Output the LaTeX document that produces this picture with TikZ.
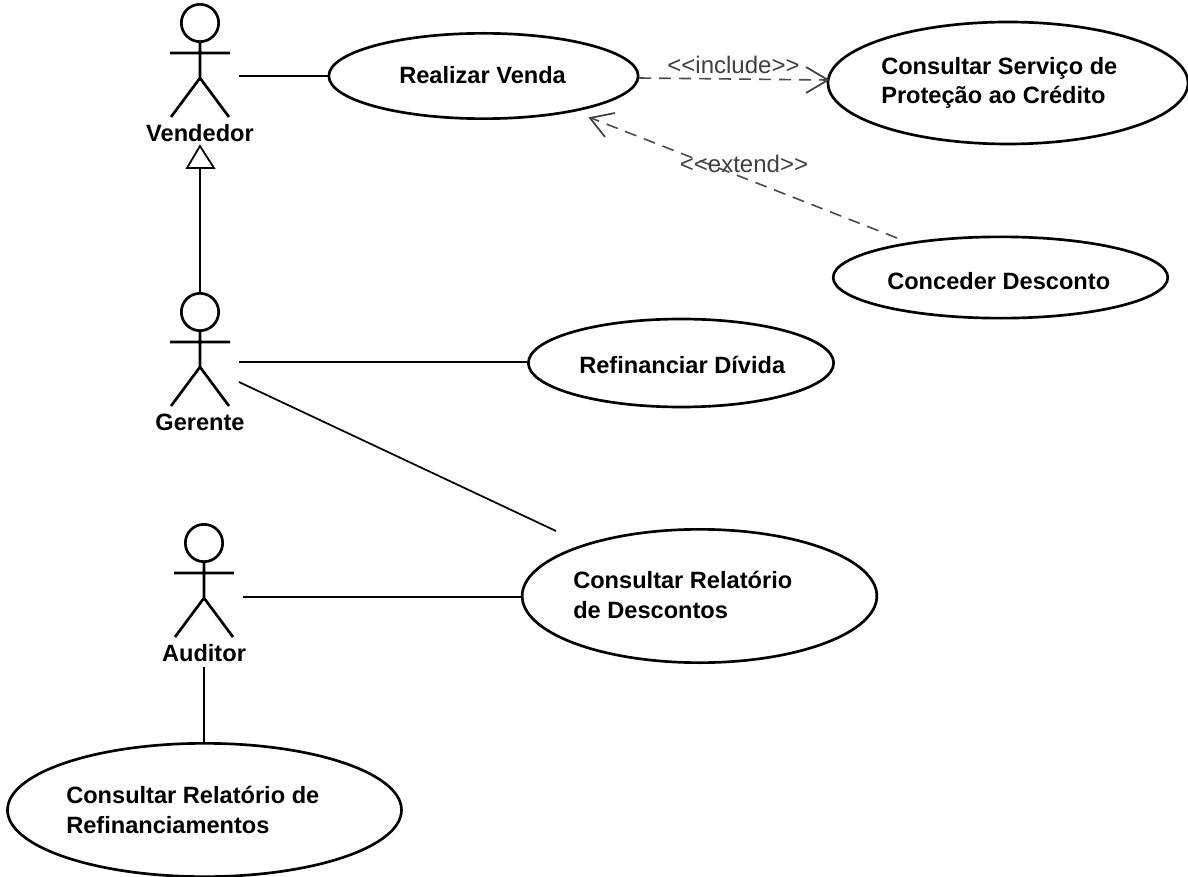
\documentclass[tikz,border=0pt]{standalone}
\usepackage{fontspec}
\setmainfont{Liberation Sans}
\usetikzlibrary{shapes.geometric}
\tikzset{x=0.75pt,y=-0.75pt,
 uc/.style={draw,ellipse,line width=2pt,inner sep=0pt},
 lbl/.style={font=\bfseries\fontsize{17.7}{22}\selectfont,align=left,anchor=base west,inner sep=0pt},
 ster/.style={font=\fontsize{18}{20}\selectfont,inner sep=0pt,anchor=base,text=black!75},
 act/.style={line width=2pt},
 asc/.style={line width=1.3pt},
 dep/.style={line width=1.2pt,dash pattern=on 9pt off 6pt,draw=black!70},
 opn/.style={line width=1.3pt,draw=black!75}}
\newcommand{\actor}[3]{%
 \draw[act] (#1,#2-55) circle[radius=14pt];
 \draw[act] (#1,#2-36) -- (#1,#2) (#1-30,#2-25) -- (#1+30,#2-25) (#1-29,#2+39) -- (#1,#2) -- (#1+29,#2+39);
 \node[lbl,anchor=base] (#3) at (#1,#2+63.5) {#3};}
\begin{document}
\begin{tikzpicture}
\useasboundingbox (0,0) rectangle (1188,877);
\fill[white] (0,0) rectangle (1188,877);
\node[uc,minimum width=232pt,minimum height=64pt] (rv) at (483.5,76) {};
\node[uc,minimum width=270pt,minimum height=91.5pt] (cs) at (1008,83) {};
\node[uc,minimum width=251pt,minimum height=61pt] (cd) at (1000.5,277.5) {};
\node[uc,minimum width=229pt,minimum height=66pt] (rd) at (681,363) {};
\node[uc,minimum width=266pt,minimum height=100pt] (cr) at (699.5,596) {};
\node[uc,minimum width=295.5pt,minimum height=100pt] (crf) at (204.5,810) {};
\node[lbl] at (399,84) {Realizar Venda};
\node[lbl] at (881,104) {Consultar Serviço de\\Proteção ao Crédito};
\node[lbl] at (887,289) {Conceder Desconto};
\node[lbl] at (579,373) {Refinanciar Dívida};
\node[lbl] at (573,618) {Consultar Relatório\\de Descontos};
\node[lbl] at (66,833) {Consultar Relatório de\\Refinanciamentos};
\actor{200}{78}{Vendedor}
\actor{200}{367}{Gerente}
\actor{204}{598}{Auditor}
\coordinate (av) at (239,76);
\coordinate (ag) at (239,362);
\coordinate (ag2) at (239,382);
\coordinate (crn) at (556,531);
\coordinate (aa) at (243,597);
\coordinate (gh) at (200,293);
\coordinate (tri) at (200,168);
\coordinate (ab) at (204,667);
\coordinate (rve) at (639,78);
\coordinate (csw) at (827,80);
\coordinate (cdn) at (897,238);
\coordinate (rvs) at (591,118);
\draw[asc] (av) -- (rv.west);
\draw[asc] (ag) -- (rd.west |- ag);
\draw[asc] (ag2) -- (crn);
\draw[asc] (aa) -- (cr.west |- aa);
\draw[asc] (ab) -- (ab |- crf.north);
\draw[asc] (gh) -- (tri);
\draw[asc,fill=white] (187,168) -- (214,168) -- (200,146) -- cycle;
\draw[dep] (rve) -- (csw);
\draw[opn] (806,67) -- (828,80) -- (806,93);
\draw[dep] (cdn) -- (rvs);
\draw[opn] (615,113) -- (590,118) -- (605,137);
\node[ster] at (733.5,74) {<{}<include>{}>};
\node[ster] at (744,173) {<{}<extend>{}>};
\end{tikzpicture}
\end{document}
